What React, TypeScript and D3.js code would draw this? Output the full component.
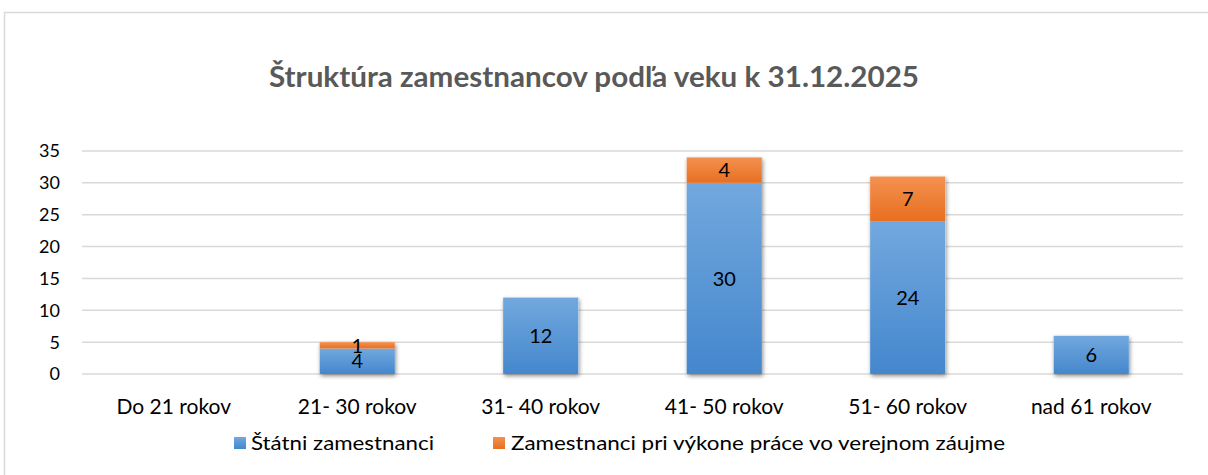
import React from "react";
import * as d3 from "d3";

const categories = ["Do 21 rokov", "21- 30 rokov", "31- 40 rokov", "41- 50 rokov", "51- 60 rokov", "nad 61 rokov"];
const statni = [0, 4, 12, 30, 24, 6];
const verejny = [0, 1, 0, 4, 7, 0];
const seriesNames = ["Štátni zamestnanci", "Zamestnanci pri výkone práce vo verejnom záujme"];
const yTicks = [0, 5, 10, 15, 20, 25, 30, 35];

const W = 1208, H = 475;
const FONT = "Lato, 'Open Sans', sans-serif";

export default function App() {
  const x = d3.scaleBand<string>().domain(categories).range([82, 1183]).paddingInner(0.59).paddingOuter(0.295);
  const y = d3.scaleLinear().domain([0, 35]).range([374, 151]);
  const stack = d3.stack<any>().keys(["a", "b"])(categories.map((c, i) => ({ c, a: statni[i], b: verejny[i] })));
  const bw = x.bandwidth();
  return (
    <svg width={W} height={H} style={{ position: "absolute", left: 0, top: 0, background: "#fff" }} fontFamily={FONT}>
      <defs>
        <linearGradient id="gBlue" x1="0" y1="0" x2="0" y2="1">
          <stop offset="0" stopColor="#72a8de" />
          <stop offset="1" stopColor="#4487cd" />
        </linearGradient>
        <linearGradient id="gOrange" x1="0" y1="0" x2="0" y2="1">
          <stop offset="0" stopColor="#f39150" />
          <stop offset="1" stopColor="#e86f20" />
        </linearGradient>
        <filter id="shadow" x="-20%" y="-20%" width="140%" height="140%">
          <feGaussianBlur in="SourceAlpha" stdDeviation="2" />
          <feOffset dx="1" dy="2" result="b" />
          <feComponentTransfer><feFuncA type="linear" slope="0.45" /></feComponentTransfer>
          <feMerge><feMergeNode /><feMergeNode in="SourceGraphic" /></feMerge>
        </filter>
      </defs>
      <rect x={4.5} y={12.5} width={1300} height={600} fill="#fff" stroke="#d9d9d9" strokeWidth={1.5} />
      <text x={594} y={87} textAnchor="middle" fontSize={28} fontWeight="bold" fill="#595959" textLength={650} lengthAdjust="spacingAndGlyphs">Štruktúra zamestnancov podľa veku k 31.12.2025</text>
      {yTicks.map(t => (
        <g key={t}>
          <line x1={82} x2={1183} y1={y(t)} y2={y(t)} stroke="#d9d9d9" strokeWidth={1.5} />
          <text x={60} y={y(t)} dy="0.36em" textAnchor="end" fontSize={18} fill="#000">{t}</text>
        </g>
      ))}
      {categories.map((c, i) => {
        const top = y(statni[i] + verejny[i]);
        const total = statni[i] + verejny[i];
        if (total === 0) return null;
        return <rect key={"s" + c} x={x(c)} y={top} width={bw} height={y(0) - top} fill="#fff" filter="url(#shadow)" />;
      })}
      {stack.map((s, si) => (
        <g key={si}>
          {s.map((d, i) => {
            const v = d[1] - d[0];
            if (v <= 0) return null;
            const c = categories[i];
            return (
              <rect key={c} x={x(c)} y={y(d[1])} width={bw} height={y(d[0]) - y(d[1])} fill={si === 0 ? "url(#gBlue)" : "url(#gOrange)"} />
            );
          })}
        </g>
      ))}
      {stack.map((s, si) => (
        <g key={"l" + si}>
          {s.map((d, i) => {
            const v = d[1] - d[0];
            if (v <= 0) return null;
            const c = categories[i];
            return (
              <text key={c} x={(x(c) as number) + bw / 2} y={(y(d[0]) + y(d[1])) / 2} dy="0.36em" textAnchor="middle" fontSize={20} fill="#000">{v}</text>
            );
          })}
        </g>
      ))}
      {categories.map(c => (
        <text key={c} x={(x(c) as number) + bw / 2} y={414} textAnchor="middle" fontSize={21} fill="#000">{c}</text>
      ))}
      <rect x={234} y={437} width={12} height={12} fill="url(#gBlue)" />
      <text x={251} y={450} fontSize={20} fill="#000" textLength={183} lengthAdjust="spacingAndGlyphs">{seriesNames[0]}</text>
      <rect x={493} y={437} width={12} height={12} fill="url(#gOrange)" />
      <text x={511} y={450} fontSize={20} fill="#000" textLength={494} lengthAdjust="spacingAndGlyphs">{seriesNames[1]}</text>
    </svg>
  );
}
